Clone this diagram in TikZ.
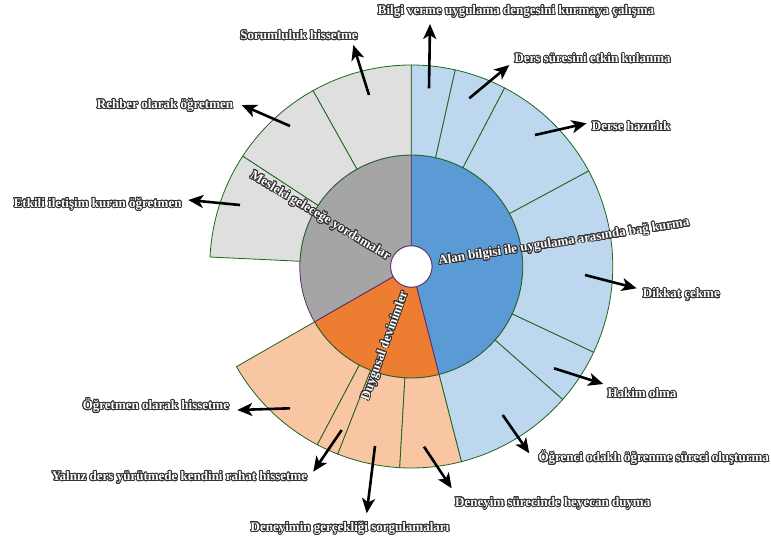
\documentclass[tikz,border=0pt]{standalone}
\usepackage{fontspec}
\setmainfont{Liberation Serif}
\usepackage[copies]{contour}
\usetikzlibrary{arrows.meta}
\contourlength{0.85pt}
\contournumber{24}
\definecolor{bluedark}{HTML}{5B9BD5}
\definecolor{bluelight}{HTML}{BDD7EE}
\definecolor{orangedark}{HTML}{ED7D31}
\definecolor{orangelight}{HTML}{F8C6A3}
\definecolor{graydark}{HTML}{A5A5A5}
\definecolor{graylight}{HTML}{DFDFDF}
\definecolor{segline}{HTML}{1F641F}
\definecolor{innerline}{HTML}{5E2A6E}
\definecolor{txtoutline}{HTML}{333333}
\newcommand\annsec[4]{(#1:#3) arc[start angle=#1,end angle=#2,radius=#3] -- (#2:#4) arc[start angle=#2,end angle=#1,radius=#4] -- cycle}
\newcommand\olab[1]{\contour{txtoutline}{#1}}
\begin{document}
\begin{tikzpicture}[x=1pt,y=-1pt,
  lbl/.style={font=\bfseries\fontsize{13}{15}\selectfont,text=white,inner sep=0pt},
  arr/.style={line width=2.6pt,-{Stealth[length=15pt,width=13pt,inset=4pt]}},
  outseg/.style={draw=segline,line width=0.8pt},
  inseg/.style={draw=innerline,line width=0.8pt}]
\useasboundingbox (0,0) rectangle (771,541);
\begin{scope}[shift={(411.3,266.5)},yscale=-1]
  % inner ring
  \filldraw[inseg,fill=bluedark]   \annsec{-75.6}{90}{20.7}{111.5};
  \filldraw[inseg,fill=graydark]   \annsec{90}{209.8}{20.7}{111.5};
  \filldraw[inseg,fill=orangedark] \annsec{209.8}{284.4}{20.7}{111.5};
  % outer ring: blue
  \filldraw[outseg,fill=bluelight] \annsec{77.4}{90}{111.5}{201.5};
  \filldraw[outseg,fill=bluelight] \annsec{62.4}{77.4}{111.5}{201.5};
  \filldraw[outseg,fill=bluelight] \annsec{28.3}{62.4}{111.5}{201.5};
  \filldraw[outseg,fill=bluelight] \annsec{-25.2}{28.3}{111.5}{201.5};
  \filldraw[outseg,fill=bluelight] \annsec{-41.3}{-25.2}{111.5}{201.5};
  \filldraw[outseg,fill=bluelight] \annsec{-75.6}{-41.3}{111.5}{201.5};
  % outer ring: gray
  \filldraw[outseg,fill=graylight] \annsec{90}{119.2}{111.5}{201.5};
  \filldraw[outseg,fill=graylight] \annsec{119.2}{146.8}{111.5}{201.5};
  \filldraw[outseg,fill=graylight] \annsec{146.8}{177.3}{111.5}{201.5};
  % outer ring: orange
  \filldraw[outseg,fill=orangelight] \annsec{209.8}{242.2}{111.5}{201.5};
  \filldraw[outseg,fill=orangelight] \annsec{242.2}{248.6}{111.5}{201.5};
  \filldraw[outseg,fill=orangelight] \annsec{248.6}{266.7}{111.5}{201.5};
  \filldraw[outseg,fill=orangelight] \annsec{266.7}{284.4}{111.5}{201.5};
  % hole
  \filldraw[inseg,fill=white] (0,0) circle[radius=20.7];
\end{scope}

% inner ring labels
\node[lbl,rotate=8.8] (alan) at (564,242.5) {\olab{Alan bilgisi ile uygulama arasında bağ kurma}};
\node[lbl,rotate=-31] (mesleki) at (320,216.5) {\olab{Mesleki geleceğe yordamalar}};
\node[lbl,rotate=70] (duygusal) at (385.5,346) {\olab{Duygusal devinimler}};

% outer labels
\node[lbl,anchor=base] (l1) at (516,14.5) {\olab{Bilgi verme uygulama dengesini kurmaya çalışma}};
\node[lbl,anchor=base west] (l2) at (514.3,62.8) {\olab{Ders süresini etkin kulanma}};
\node[lbl,anchor=base west] (l3) at (591.7,130.7) {\olab{Derse hazırlık}};
\node[lbl,anchor=base] (l4) at (299,39.5) {\olab{Sorumluluk hissetme}};
\node[lbl,anchor=base east] (l5) at (233.3,108.5) {\olab{Rehber olarak öğretmen}};
\node[lbl,anchor=base east] (l6) at (181.7,207.2) {\olab{Etkili iletişim kuran öğretmen}};
\node[lbl,anchor=base west] (l7) at (642.7,297.8) {\olab{Dikkat çekme}};
\node[lbl,anchor=base west] (l8) at (607.3,397.8) {\olab{Hakim olma}};
\node[lbl,anchor=base west] (l9) at (538.3,461.8) {\olab{Öğrenci odaklı öğrenme süreci oluşturma}};
\node[lbl,anchor=base west] (l10) at (455,506.2) {\olab{Deneyim sürecinde heyecan duyma}};
\node[lbl,anchor=base] (l11) at (350,531.2) {\olab{Deneyimin gerçekliği sorgulamaları}};
\node[lbl,anchor=base east] (l12) at (307.3,480.5) {\olab{Yalnız ders yürütmede kendini rahat hissetme}};
\node[lbl,anchor=base east] (l13) at (229.3,409.5) {\olab{Öğretmen olarak hissetme}};

% arrow end points
\coordinate (s1) at (429,88.3);   \coordinate (t1) at (430,24);
\coordinate (s2) at (469.3,98.3); \coordinate (t2) at (509.3,65);
\coordinate (s3) at (535,135);    \coordinate (t3) at (586.7,123.3);
\coordinate (s4) at (369,95);     \coordinate (t4) at (353.3,45);
\coordinate (s5) at (290,126);    \coordinate (t5) at (241.7,105);
\coordinate (s6) at (240,205);    \coordinate (t6) at (188.3,200);
\coordinate (s7) at (585,275);    \coordinate (t7) at (636.7,288.3);
\coordinate (s8) at (554,368.3);  \coordinate (t8) at (603.3,384);
\coordinate (s9) at (502.7,415);  \coordinate (t9) at (529.3,453.3);
\coordinate (s10) at (424,446.7); \coordinate (t10) at (451.7,488.3);
\coordinate (s11) at (375,446);   \coordinate (t11) at (366.7,513.3);
\coordinate (s12) at (341.7,430); \coordinate (t12) at (313.3,471.7);
\coordinate (s13) at (290,408.3); \coordinate (t13) at (237.3,410);
\foreach \i in {1,...,13} {\draw[arr] (s\i) -- (t\i);}
\end{tikzpicture}
\end{document}
